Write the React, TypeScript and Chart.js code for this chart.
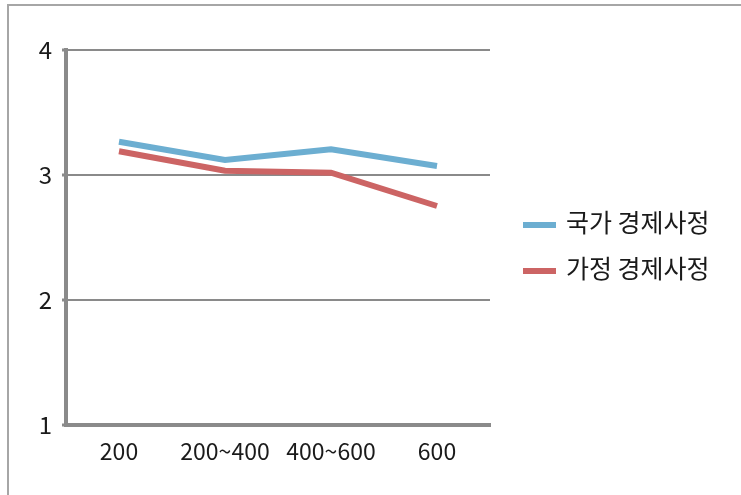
import React, { useEffect, useRef } from "react";
import { Chart, registerables } from "chart.js";

Chart.register(...registerables);

const categories = ["200", "200~400", "400~600", "600"];
const nationalEconomy = [3.266, 3.12, 3.206, 3.072];
const householdEconomy = [3.19, 3.034, 3.018, 2.752];
const seriesNames = ["국가 경제사정", "가정 경제사정"];
const seriesColors = ["#6caed1", "#cc6464"];
const yTicks = [1, 2, 3, 4];

const FONT = "'Noto Sans CJK KR', 'Noto Sans', sans-serif";
const AXIS_GREY = "#8a8a8a";

// Legend drawn to the right of the plot: a short thick stroke and the series name.
const sideLegend = {
  id: "sideLegend",
  afterDraw(chart: any) {
    const { ctx } = chart;
    ctx.save();
    chart.data.datasets.forEach((ds: any, i: number) => {
      const y = 225 + i * 46;
      ctx.strokeStyle = ds.borderColor;
      ctx.lineWidth = 6;
      ctx.beginPath();
      ctx.moveTo(523, y);
      ctx.lineTo(556, y);
      ctx.stroke();
      ctx.fillStyle = "#1a1a1a";
      ctx.font = `25px ${FONT}`;
      ctx.textAlign = "left";
      ctx.textBaseline = "middle";
      ctx.fillText(ds.label, 566, y - 3);
    });
    ctx.restore();
  },
};

export default function App() {
  const canvasRef = useRef<HTMLCanvasElement | null>(null);

  useEffect(() => {
    const canvas = canvasRef.current;
    if (!canvas) return;
    const chart = new Chart(canvas, {
      type: "line",
      data: {
        labels: categories,
        datasets: [
          {
            label: seriesNames[0],
            data: nationalEconomy,
            borderColor: seriesColors[0],
            backgroundColor: seriesColors[0],
            borderWidth: 6,
            pointRadius: 0,
            tension: 0,
          },
          {
            label: seriesNames[1],
            data: householdEconomy,
            borderColor: seriesColors[1],
            backgroundColor: seriesColors[1],
            borderWidth: 6,
            pointRadius: 0,
            tension: 0,
          },
        ],
      },
      options: {
        responsive: false,
        animation: false,
        devicePixelRatio: 1,
        layout: { padding: { left: 0, top: 50, right: 251, bottom: 0 } },
        plugins: {
          legend: { display: false },
          tooltip: { enabled: false },
        },
        scales: {
          x: {
            type: "category",
            offset: true,
            grid: { display: false, drawTicks: false },
            border: { display: true, color: AXIS_GREY, width: 4 },
            ticks: {
              color: "#1a1a1a",
              font: { family: FONT, size: 23 },
              padding: 12,
              maxRotation: 0,
              autoSkip: false,
            },
            afterFit(scale: any) {
              scale.height = 70;
              scale.paddingLeft = 0;
              scale.paddingRight = 0;
            },
          },
          y: {
            min: 1,
            max: 4,
            afterBuildTicks(scale: any) {
              scale.ticks = yTicks.map((v) => ({ value: v }));
            },
            grid: {
              color: AXIS_GREY,
              lineWidth: 2,
              tickLength: 4,
              tickWidth: 3,
              drawTicks: true,
            },
            border: { display: true, color: AXIS_GREY, width: 4 },
            ticks: {
              color: "#1a1a1a",
              font: { family: FONT, size: 24 },
              padding: 10,
            },
            afterFit(scale: any) {
              scale.width = 66;
              scale.paddingTop = 0;
              scale.paddingBottom = 0;
            },
          },
        },
      },
      plugins: [sideLegend],
    });
    return () => chart.destroy();
  }, []);

  return (
    <div style={{ position: "fixed", left: 0, top: 0, width: 741, height: 495, background: "#fff" }}>
      <div
        style={{
          position: "absolute",
          left: 7,
          top: 4,
          width: 741,
          height: 495,
          borderTop: "2px solid #a6a6a6",
          borderLeft: "2px solid #a6a6a6",
        }}
      />
      <canvas
        ref={canvasRef}
        width={741}
        height={495}
        style={{ position: "absolute", left: 0, top: 0, width: 741, height: 495 }}
      />
    </div>
  );
}
